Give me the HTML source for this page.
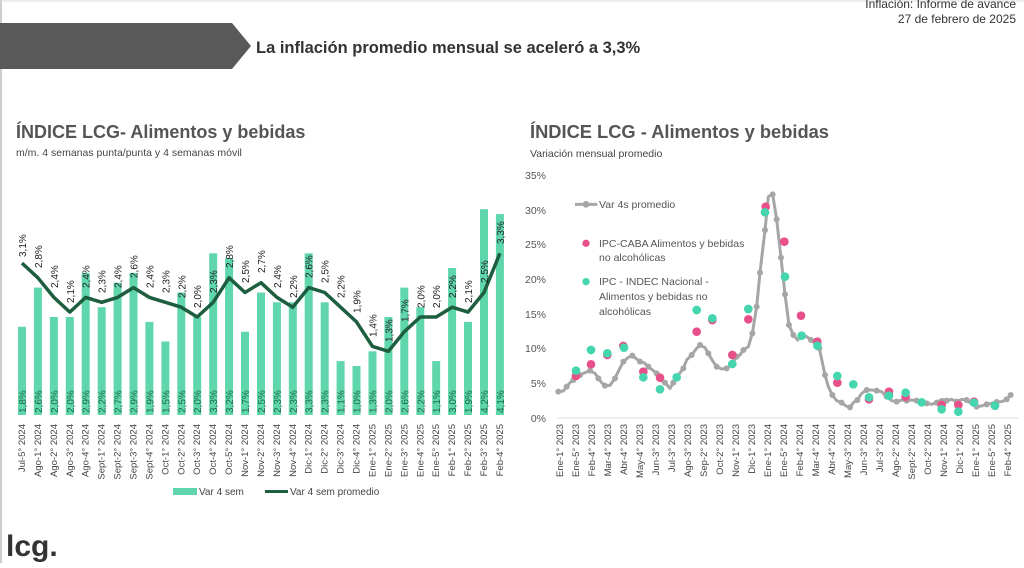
<!DOCTYPE html>
<html><head><meta charset="utf-8"><style>
body{margin:0;width:1024px;height:563px;overflow:hidden;background:#fff;font-family:"Liberation Sans",sans-serif}
</style></head><body>
<svg width="1024" height="563" xmlns="http://www.w3.org/2000/svg" font-family="Liberation Sans, sans-serif">
<line x1="1" y1="0" x2="1" y2="563" stroke="#999" stroke-width="1"/>
<line x1="0" y1="1" x2="1024" y2="1" stroke="#ddd"/>
<polygon points="0,23 232,23 251,46 232,69 0,69" fill="#595959"/>
<text x="256" y="53" font-size="16.5" font-weight="bold" fill="#333">La inflación promedio mensual se aceleró a 3,3%</text>
<text x="1016" y="8" font-size="12" fill="#333" text-anchor="end">Inflación: Informe de avance</text>
<text x="1016" y="23" font-size="12" fill="#333" text-anchor="end">27 de febrero de 2025</text>
<text x="16" y="138" font-size="18" font-weight="bold" fill="#555">ÍNDICE LCG- Alimentos y bebidas</text>
<text x="16" y="156" font-size="10.5" fill="#444">m/m. 4 semanas punta/punta y 4 semanas móvil</text>
<text x="530" y="138" font-size="18.3" font-weight="bold" fill="#555">ÍNDICE LCG - Alimentos y bebidas</text>
<text x="530" y="157" font-size="10.5" fill="#444">Variación mensual promedio</text>
<text x="6" y="556" font-size="30" font-weight="bold" fill="#333">lcg.</text>

<g fill="#5fd6ac">
<rect x="18" y="326.8" width="8" height="88.2"/><rect x="33.9" y="287.6" width="8" height="127.4"/><rect x="49.9" y="317" width="8" height="98"/><rect x="65.8" y="317" width="8" height="98"/><rect x="81.7" y="272.9" width="8" height="142.1"/><rect x="97.7" y="307.2" width="8" height="107.8"/><rect x="113.6" y="282.7" width="8" height="132.3"/><rect x="129.5" y="272.9" width="8" height="142.1"/><rect x="145.4" y="321.9" width="8" height="93.1"/><rect x="161.4" y="341.5" width="8" height="73.5"/><rect x="177.3" y="292.5" width="8" height="122.5"/><rect x="193.2" y="317" width="8" height="98"/><rect x="209.2" y="253.3" width="8" height="161.7"/><rect x="225.1" y="258.2" width="8" height="156.8"/><rect x="241" y="331.7" width="8" height="83.3"/><rect x="257" y="292.5" width="8" height="122.5"/><rect x="272.9" y="302.3" width="8" height="112.7"/><rect x="288.8" y="302.3" width="8" height="112.7"/><rect x="304.7" y="253.3" width="8" height="161.7"/><rect x="320.7" y="302.3" width="8" height="112.7"/><rect x="336.6" y="361.1" width="8" height="53.9"/><rect x="352.5" y="366" width="8" height="49"/><rect x="368.5" y="351.3" width="8" height="63.7"/><rect x="384.4" y="317" width="8" height="98"/><rect x="400.3" y="287.6" width="8" height="127.4"/><rect x="416.3" y="307.2" width="8" height="107.8"/><rect x="432.2" y="361.1" width="8" height="53.9"/><rect x="448.1" y="268" width="8" height="147"/><rect x="464" y="321.9" width="8" height="93.1"/><rect x="480" y="209.2" width="8" height="205.8"/><rect x="495.9" y="214.1" width="8" height="200.9"/>
</g>
<polyline fill="none" stroke="#1d5e3f" stroke-width="3.5" stroke-linejoin="round" points="22,263.1 37.9,277.8 53.9,297.4 69.8,312.1 85.7,297.4 101.7,302.3 117.6,297.4 133.5,287.6 149.4,297.4 165.4,302.3 181.3,307.2 197.2,317 213.2,302.3 229.1,277.8 245,292.5 261,282.7 276.9,297.4 292.8,307.2 308.7,287.6 324.7,292.5 340.6,307.2 356.5,321.9 372.5,346.4 388.4,351.3 404.3,331.7 420.3,317 436.2,317 452.1,307.2 468,312.1 484,292.5 499.9,253.3"/>
<g font-size="10" fill="#222">
<text transform="translate(26,257) rotate(-90)">3,1%</text><text transform="translate(41.9,268) rotate(-90)">2,8%</text><text transform="translate(57.9,288) rotate(-90)">2,4%</text><text transform="translate(73.8,303) rotate(-90)">2,1%</text><text transform="translate(89.7,288) rotate(-90)">2,4%</text><text transform="translate(105.7,293) rotate(-90)">2,3%</text><text transform="translate(121.6,288) rotate(-90)">2,4%</text><text transform="translate(137.5,278) rotate(-90)">2,6%</text><text transform="translate(153.4,288) rotate(-90)">2,4%</text><text transform="translate(169.4,293) rotate(-90)">2,3%</text><text transform="translate(185.3,298) rotate(-90)">2,2%</text><text transform="translate(201.2,308) rotate(-90)">2,0%</text><text transform="translate(217.2,293) rotate(-90)">2,3%</text><text transform="translate(233.1,268) rotate(-90)">2,8%</text><text transform="translate(249,283) rotate(-90)">2,5%</text><text transform="translate(265,273) rotate(-90)">2,7%</text><text transform="translate(280.9,288) rotate(-90)">2,4%</text><text transform="translate(296.8,298) rotate(-90)">2,2%</text><text transform="translate(312.7,278) rotate(-90)">2,6%</text><text transform="translate(328.7,283) rotate(-90)">2,5%</text><text transform="translate(344.6,298) rotate(-90)">2,2%</text><text transform="translate(360.5,313) rotate(-90)">1,9%</text><text transform="translate(376.5,337) rotate(-90)">1,4%</text><text transform="translate(392.4,342) rotate(-90)">1,3%</text><text transform="translate(408.3,322) rotate(-90)">1,7%</text><text transform="translate(424.3,308) rotate(-90)">2,0%</text><text transform="translate(440.2,308) rotate(-90)">2,0%</text><text transform="translate(456.1,298) rotate(-90)">2,2%</text><text transform="translate(472,303) rotate(-90)">2,1%</text><text transform="translate(488,283) rotate(-90)">2,5%</text><text transform="translate(503.9,244) rotate(-90)">3,3%</text>
</g>
<g font-size="10" fill="#1d6b48">
<text transform="translate(26,413) rotate(-90)">1,8%</text><text transform="translate(41.9,413) rotate(-90)">2,6%</text><text transform="translate(57.9,413) rotate(-90)">2,0%</text><text transform="translate(73.8,413) rotate(-90)">2,0%</text><text transform="translate(89.7,413) rotate(-90)">2,9%</text><text transform="translate(105.7,413) rotate(-90)">2,2%</text><text transform="translate(121.6,413) rotate(-90)">2,7%</text><text transform="translate(137.5,413) rotate(-90)">2,9%</text><text transform="translate(153.4,413) rotate(-90)">1,9%</text><text transform="translate(169.4,413) rotate(-90)">1,5%</text><text transform="translate(185.3,413) rotate(-90)">2,5%</text><text transform="translate(201.2,413) rotate(-90)">2,0%</text><text transform="translate(217.2,413) rotate(-90)">3,3%</text><text transform="translate(233.1,413) rotate(-90)">3,2%</text><text transform="translate(249,413) rotate(-90)">1,7%</text><text transform="translate(265,413) rotate(-90)">2,5%</text><text transform="translate(280.9,413) rotate(-90)">2,3%</text><text transform="translate(296.8,413) rotate(-90)">2,3%</text><text transform="translate(312.7,413) rotate(-90)">3,3%</text><text transform="translate(328.7,413) rotate(-90)">2,3%</text><text transform="translate(344.6,413) rotate(-90)">1,1%</text><text transform="translate(360.5,413) rotate(-90)">1,0%</text><text transform="translate(376.5,413) rotate(-90)">1,3%</text><text transform="translate(392.4,413) rotate(-90)">2,0%</text><text transform="translate(408.3,413) rotate(-90)">2,6%</text><text transform="translate(424.3,413) rotate(-90)">2,2%</text><text transform="translate(440.2,413) rotate(-90)">1,1%</text><text transform="translate(456.1,413) rotate(-90)">3,0%</text><text transform="translate(472,413) rotate(-90)">1,9%</text><text transform="translate(488,413) rotate(-90)">4,2%</text><text transform="translate(503.9,413) rotate(-90)">4,1%</text>
</g>
<g font-size="9.5" fill="#444" text-anchor="end">
<text transform="translate(25,424) rotate(-90)">Jul-5° 2024</text><text transform="translate(40.9,424) rotate(-90)">Ago-1° 2024</text><text transform="translate(56.9,424) rotate(-90)">Ago-2° 2024</text><text transform="translate(72.8,424) rotate(-90)">Ago-3° 2024</text><text transform="translate(88.7,424) rotate(-90)">Ago-4° 2024</text><text transform="translate(104.7,424) rotate(-90)">Sept-1° 2024</text><text transform="translate(120.6,424) rotate(-90)">Sept-2° 2024</text><text transform="translate(136.5,424) rotate(-90)">Sept-3° 2024</text><text transform="translate(152.4,424) rotate(-90)">Sept-4° 2024</text><text transform="translate(168.4,424) rotate(-90)">Oct-1° 2024</text><text transform="translate(184.3,424) rotate(-90)">Oct-2° 2024</text><text transform="translate(200.2,424) rotate(-90)">Oct-3° 2024</text><text transform="translate(216.2,424) rotate(-90)">Oct-4° 2024</text><text transform="translate(232.1,424) rotate(-90)">Oct-5° 2024</text><text transform="translate(248,424) rotate(-90)">Nov-1° 2024</text><text transform="translate(264,424) rotate(-90)">Nov-2° 2024</text><text transform="translate(279.9,424) rotate(-90)">Nov-3° 2024</text><text transform="translate(295.8,424) rotate(-90)">Nov-4° 2024</text><text transform="translate(311.7,424) rotate(-90)">Dic-1° 2024</text><text transform="translate(327.7,424) rotate(-90)">Dic-2° 2024</text><text transform="translate(343.6,424) rotate(-90)">Dic-3° 2024</text><text transform="translate(359.5,424) rotate(-90)">Dic-4° 2024</text><text transform="translate(375.5,424) rotate(-90)">Ene-1° 2025</text><text transform="translate(391.4,424) rotate(-90)">Ene-2° 2025</text><text transform="translate(407.3,424) rotate(-90)">Ene-3° 2025</text><text transform="translate(423.3,424) rotate(-90)">Ene-4° 2025</text><text transform="translate(439.2,424) rotate(-90)">Ene-5° 2025</text><text transform="translate(455.1,424) rotate(-90)">Feb-1° 2025</text><text transform="translate(471,424) rotate(-90)">Feb-2° 2025</text><text transform="translate(487,424) rotate(-90)">Feb-3° 2025</text><text transform="translate(502.9,424) rotate(-90)">Feb-4° 2025</text>
</g>
<rect x="173" y="488" width="24" height="7" fill="#5fd6ac"/>
<text x="199" y="495" font-size="10" fill="#444">Var 4 sem</text>
<line x1="265" y1="491.5" x2="288" y2="491.5" stroke="#1d5e3f" stroke-width="3"/>
<text x="290" y="495" font-size="10" fill="#444">Var 4 sem promedio</text>

<g font-size="10.5" fill="#555" text-anchor="end">
<text x="546" y="179">35%</text><text x="546" y="214">30%</text><text x="546" y="248">25%</text><text x="546" y="283">20%</text><text x="546" y="318">15%</text><text x="546" y="352">10%</text><text x="546" y="387">5%</text><text x="546" y="422">0%</text>
</g>
<line x1="557" y1="418" x2="1018" y2="418" stroke="#ddd"/>
<g transform="translate(520,160) scale(0.33333)">
<polyline fill="none" stroke="#a6a6a6" stroke-width="9" stroke-linejoin="round" points="115,695 130,693 140,680 150,668 160,660 170,655 180,645 195,638 210,632 225,640 235,655 245,668 255,677 270,676 285,655 297,630 310,605 325,592 337,587 350,597 360,605 372,608 385,620 400,632 410,640 420,660 435,668 450,685 460,668 475,645 490,625 500,600 515,585 530,565 540,555 555,563 565,580 578,603 590,620 605,627 620,625 635,613 650,590 660,585 670,570 685,560 697,520 710,440 720,338 735,210 745,110 758,103 770,178 783,293 795,403 807,495 820,525 833,540 845,525 860,530 873,540 885,550 898,565 905,598 915,645 925,680 937,705 950,722 965,728 978,738 990,742 1000,728 1012,720 1025,700 1040,690 1055,690 1070,692 1085,695 1100,710 1115,722 1130,725 1145,720 1160,722 1175,720 1190,722 1205,725 1220,730 1235,733 1250,728 1265,718 1280,722 1295,718 1310,725 1325,718 1340,720 1355,732 1370,740 1385,738 1400,733 1415,730 1430,726 1445,725 1460,718 1472,705"/>
<g fill="#a6a6a6">
<circle cx="115" cy="695" r="9"/><circle cx="140" cy="680" r="9"/><circle cx="160" cy="660" r="9"/><circle cx="180" cy="645" r="9"/><circle cx="210" cy="632" r="9"/><circle cx="235" cy="655" r="9"/><circle cx="255" cy="677" r="9"/><circle cx="285" cy="655" r="9"/><circle cx="310" cy="605" r="9"/><circle cx="337" cy="587" r="9"/><circle cx="360" cy="605" r="9"/><circle cx="385" cy="620" r="9"/><circle cx="410" cy="640" r="9"/><circle cx="435" cy="668" r="9"/><circle cx="460" cy="668" r="9"/><circle cx="490" cy="625" r="9"/><circle cx="515" cy="585" r="9"/><circle cx="540" cy="555" r="9"/><circle cx="565" cy="580" r="9"/><circle cx="590" cy="620" r="9"/><circle cx="620" cy="625" r="9"/><circle cx="650" cy="590" r="9"/><circle cx="670" cy="570" r="9"/><circle cx="697" cy="520" r="9"/><circle cx="710" cy="440" r="9"/><circle cx="720" cy="338" r="9"/><circle cx="735" cy="210" r="9"/><circle cx="758" cy="103" r="9"/><circle cx="770" cy="178" r="9"/><circle cx="783" cy="293" r="9"/><circle cx="795" cy="403" r="9"/><circle cx="807" cy="495" r="9"/><circle cx="820" cy="525" r="9"/><circle cx="845" cy="525" r="9"/><circle cx="873" cy="540" r="9"/><circle cx="898" cy="565" r="9"/><circle cx="915" cy="645" r="9"/><circle cx="937" cy="705" r="9"/><circle cx="965" cy="728" r="9"/><circle cx="990" cy="742" r="9"/><circle cx="1012" cy="720" r="9"/><circle cx="1040" cy="690" r="9"/><circle cx="1070" cy="692" r="9"/><circle cx="1100" cy="710" r="9"/><circle cx="1130" cy="725" r="9"/><circle cx="1160" cy="722" r="9"/><circle cx="1190" cy="722" r="9"/><circle cx="1220" cy="730" r="9"/><circle cx="1250" cy="728" r="9"/><circle cx="1280" cy="722" r="9"/><circle cx="1310" cy="725" r="9"/><circle cx="1340" cy="720" r="9"/><circle cx="1370" cy="740" r="9"/><circle cx="1400" cy="733" r="9"/><circle cx="1430" cy="726" r="9"/><circle cx="1460" cy="718" r="9"/><circle cx="1472" cy="705" r="9"/>
</g>
<g fill="#e8508a">
<circle cx="168" cy="648" r="13"/><circle cx="213" cy="613" r="13"/><circle cx="262" cy="585" r="13"/><circle cx="310" cy="558" r="13"/><circle cx="370" cy="635" r="13"/><circle cx="420" cy="653" r="13"/><circle cx="530" cy="515" r="13"/><circle cx="577" cy="480" r="13"/><circle cx="637" cy="585" r="13"/><circle cx="685" cy="478" r="13"/><circle cx="737" cy="140" r="13"/><circle cx="793" cy="245" r="13"/><circle cx="843" cy="467" r="13"/><circle cx="892" cy="545" r="13"/><circle cx="952" cy="668" r="13"/><circle cx="1047" cy="718" r="13"/><circle cx="1107" cy="695" r="13"/><circle cx="1157" cy="710" r="13"/><circle cx="1265" cy="735" r="13"/><circle cx="1315" cy="735" r="13"/><circle cx="1362" cy="725" r="13"/><circle cx="1425" cy="737" r="13"/>
</g>
<g fill="#45d6b0">
<circle cx="168" cy="632" r="13"/><circle cx="213" cy="570" r="13"/><circle cx="262" cy="580" r="13"/><circle cx="312" cy="563" r="13"/><circle cx="370" cy="652" r="13"/><circle cx="420" cy="688" r="13"/><circle cx="470" cy="652" r="13"/><circle cx="530" cy="450" r="13"/><circle cx="577" cy="475" r="13"/><circle cx="637" cy="612" r="13"/><circle cx="685" cy="447" r="13"/><circle cx="735" cy="157" r="13"/><circle cx="795" cy="350" r="13"/><circle cx="845" cy="527" r="13"/><circle cx="892" cy="557" r="13"/><circle cx="952" cy="648" r="13"/><circle cx="1000" cy="673" r="13"/><circle cx="1047" cy="712" r="13"/><circle cx="1107" cy="707" r="13"/><circle cx="1157" cy="698" r="13"/><circle cx="1205" cy="727" r="13"/><circle cx="1265" cy="748" r="13"/><circle cx="1315" cy="755" r="13"/><circle cx="1362" cy="728" r="13"/><circle cx="1425" cy="737" r="13"/>
</g>
<line x1="165" y1="133" x2="232" y2="133" stroke="#a6a6a6" stroke-width="9"/><circle cx="198" cy="133" r="10" fill="#a6a6a6"/>
<circle cx="198" cy="250" r="11" fill="#e8508a"/><circle cx="198" cy="365" r="11" fill="#45d6b0"/>
</g>
<g font-size="10.5" fill="#555">
<text x="599" y="208">Var 4s promedio</text>
<text x="599" y="247">IPC-CABA Alimentos y bebidas</text><text x="599" y="261">no alcohólicas</text>
<text x="599" y="285">IPC - INDEC Nacional -</text><text x="599" y="300">Alimentos y bebidas no</text><text x="599" y="315">alcohólicas</text>
</g>
<g font-size="9.5" fill="#444" text-anchor="end">
<text transform="translate(563,424) rotate(-90)">Ene-1° 2023</text><text transform="translate(579,424) rotate(-90)">Ene-5° 2023</text><text transform="translate(595,424) rotate(-90)">Feb-4° 2023</text><text transform="translate(611,424) rotate(-90)">Mar-4° 2023</text><text transform="translate(627,424) rotate(-90)">Abr-4° 2023</text><text transform="translate(643,424) rotate(-90)">May-4° 2023</text><text transform="translate(659,424) rotate(-90)">Jun-3° 2023</text><text transform="translate(675,424) rotate(-90)">Jul-3° 2023</text><text transform="translate(691,424) rotate(-90)">Ago-3° 2023</text><text transform="translate(707,424) rotate(-90)">Sep-2° 2023</text><text transform="translate(723,424) rotate(-90)">Oct-2° 2023</text><text transform="translate(739,424) rotate(-90)">Nov-1° 2023</text><text transform="translate(755,424) rotate(-90)">Dic-1° 2023</text><text transform="translate(771,424) rotate(-90)">Ene-1° 2024</text><text transform="translate(787,424) rotate(-90)">Ene-5° 2024</text><text transform="translate(803,424) rotate(-90)">Feb-4° 2024</text><text transform="translate(819,424) rotate(-90)">Mar-4° 2024</text><text transform="translate(835,424) rotate(-90)">Abr-4° 2024</text><text transform="translate(851,424) rotate(-90)">May-3° 2024</text><text transform="translate(867,424) rotate(-90)">Jun-3° 2024</text><text transform="translate(883,424) rotate(-90)">Jul-3° 2024</text><text transform="translate(899,424) rotate(-90)">Ago-2° 2024</text><text transform="translate(915,424) rotate(-90)">Sept-2° 2024</text><text transform="translate(931,424) rotate(-90)">Oct-2° 2024</text><text transform="translate(947,424) rotate(-90)">Nov-1° 2024</text><text transform="translate(963,424) rotate(-90)">Dic-1° 2024</text><text transform="translate(979,424) rotate(-90)">Ene-1° 2025</text><text transform="translate(995,424) rotate(-90)">Ene-5° 2025</text><text transform="translate(1011,424) rotate(-90)">Feb-4° 2025</text>
</g>
</svg>
</body></html>
